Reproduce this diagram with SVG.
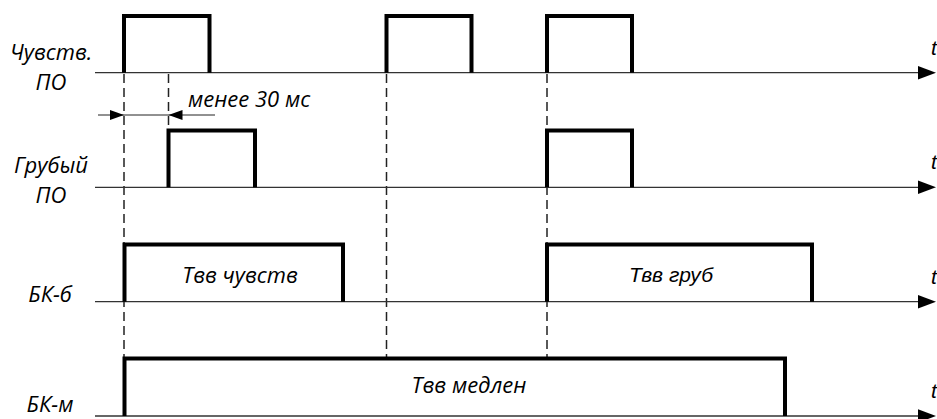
<svg xmlns="http://www.w3.org/2000/svg" width="937" height="419" viewBox="0 0 937 419">
<style>
.axis{stroke:#333;stroke-width:1.3;fill:none}
.pulse{stroke:#000;stroke-width:4;fill:none;stroke-linejoin:miter}
.dash{stroke:#222;stroke-width:1.5;stroke-dasharray:9,5;fill:none}
.dim{stroke:#222;stroke-width:1;fill:none}
.lbl{font-family:"Open Sans","Noto Sans",sans-serif;font-style:italic;font-size:22px;fill:#000}
.ar{font-family:"Liberation Sans",Arial,sans-serif;font-style:italic;font-size:21px;fill:#000}
.head{fill:#000}
</style>
<rect width="937" height="419" fill="#fff"/>
<g id="connectors">
<path class="dash" d="M124,74V358"/>
<path class="dash" d="M168.5,74V130"/>
<path class="dash" d="M386.5,74V358"/>
<path class="dash" d="M547,74V358"/>
<path class="dim" d="M98,115H215"/>
<polygon class="head" points="124,115 110,110 110,120"/>
<polygon class="head" points="168.5,115 182.5,110 182.5,120"/>
</g>
<g id="row1">
<path class="axis" d="M95,72.7H920"/>
<polygon class="head" points="936,72.7 918,66 918,79.4"/>
<path class="pulse" d="M124,72.7V16H209.5V72.7"/>
<path class="pulse" d="M386.5,72.7V16H471.5V72.7"/>
<path class="pulse" d="M547,72.7V16H632V72.7"/>
<text class="lbl" x="51" y="60" text-anchor="middle">Чувств.</text>
<text class="lbl" x="51" y="90" text-anchor="middle">ПО</text>
<text class="ar" x="931" y="55">t</text>
<text class="lbl" x="188" y="107">менее 30 мс</text>
</g>
<g id="row2">
<path class="axis" d="M95,187.3H920"/>
<polygon class="head" points="936,187.3 918,180.6 918,194"/>
<path class="pulse" d="M168.5,187.3V130.5H255V187.3"/>
<path class="pulse" d="M547,187.3V130.5H632V187.3"/>
<text class="lbl" x="51" y="173" text-anchor="middle">Грубый</text>
<text class="lbl" x="51" y="203" text-anchor="middle">ПО</text>
<text class="ar" x="931" y="169">t</text>
</g>
<g id="row3">
<path class="axis" d="M95,301.7H920"/>
<polygon class="head" points="936,301.7 918,295 918,308.4"/>
<path class="pulse" d="M124.5,301.7V244.5H343V301.7"/>
<path class="pulse" d="M547,301.7V244.5H812V301.7"/>
<text class="lbl" x="50" y="302" text-anchor="middle">БК-б</text>
<text class="lbl" x="240" y="283" text-anchor="middle">Твв чувств</text>
<text class="ar" x="671" y="282" text-anchor="middle">Твв груб</text>
<text class="ar" x="931" y="284">t</text>
</g>
<g id="row4">
<path class="axis" d="M95,416H920"/>
<polygon class="head" points="936,416 918,409.3 918,422.7"/>
<path class="pulse" d="M124.5,416V358.5H785V416"/>
<text class="lbl" x="50" y="412" text-anchor="middle">БК-м</text>
<text class="lbl" x="469" y="393" text-anchor="middle">Твв медлен</text>
<text class="ar" x="931" y="398">t</text>
</g>
</svg>
